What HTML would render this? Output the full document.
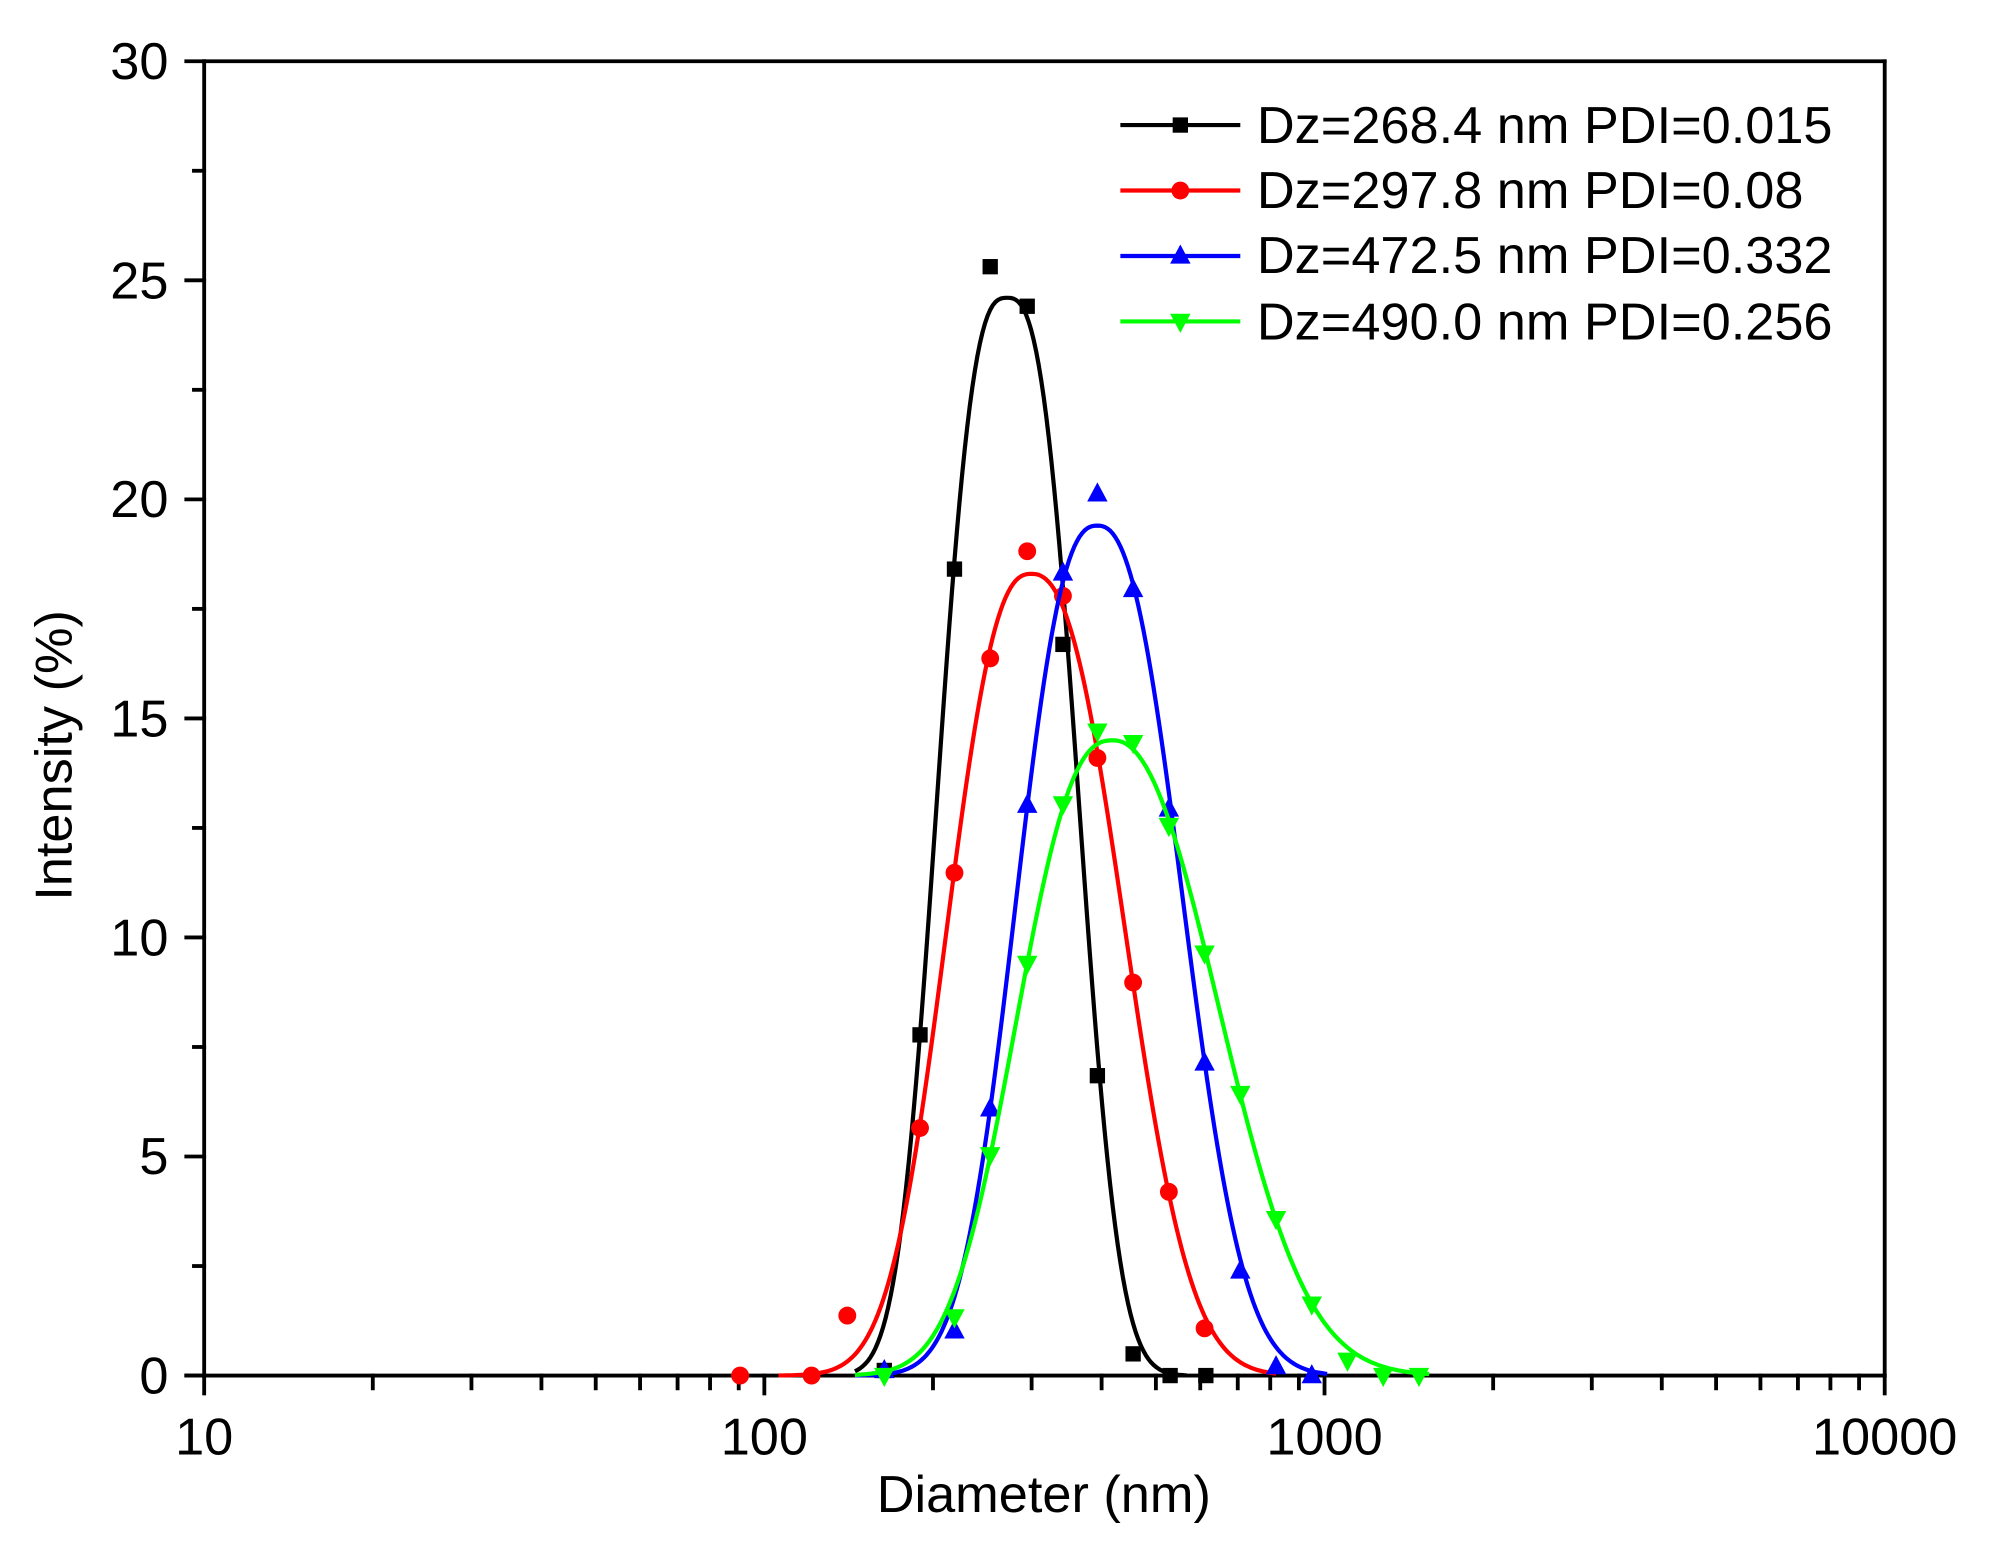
<!DOCTYPE html>
<html><head><meta charset="utf-8"><style>
html,body{margin:0;padding:0;background:#fff;}
svg{display:block;}
text{font-family:"Liberation Sans",Arial,sans-serif;fill:#000;}
</style></head><body>
<svg id="s" width="1991" height="1544" viewBox="0 0 1560.3 1210" xmlns="http://www.w3.org/2000/svg">
<g id="g"></g>
<g font-size="41">
<text x="160" y="1140" text-anchor="middle">10</text>
<text x="599" y="1140" text-anchor="middle">100</text>
<text x="1038" y="1140" text-anchor="middle">1000</text>
<text x="1477" y="1140" text-anchor="middle">10000</text>
<text x="132" y="1092" text-anchor="end">0</text>
<text x="132" y="920" text-anchor="end">5</text>
<text x="132" y="749" text-anchor="end">10</text>
<text x="132" y="577" text-anchor="end">15</text>
<text x="132" y="405" text-anchor="end">20</text>
<text x="132" y="234" text-anchor="end">25</text>
<text x="132" y="62" text-anchor="end">30</text>
<text x="818" y="1185" text-anchor="middle">Diameter (nm)</text>
<text transform="translate(56,592) rotate(-90)" text-anchor="middle">Intensity (%)</text>
<text x="985" y="112">Dz=268.4 nm PDI=0.015</text>
<text x="985" y="163">Dz=297.8 nm PDI=0.08</text>
<text x="985" y="214">Dz=472.5 nm PDI=0.332</text>
<text x="985" y="266">Dz=490.0 nm PDI=0.256</text>
</g>
</svg>
<script>
var g=document.getElementById('g'),h='';
function Y(v){return 1078-v/30*1030;}
function L(x1,y1,x2,y2,w){h+='<line x1="'+x1+'" y1="'+y1+'" x2="'+x2+'" y2="'+y2+'" stroke="#000" stroke-width="'+(w||3)+'" stroke-linecap="square"/>';}
L(160,48,1477,48);L(1477,48,1477,1078);L(160,48,160,1078);L(146,1078,1477,1078);
for(var i=0;i<=6;i++){L(146,Y(i*5),160,Y(i*5));}
for(var i=0;i<6;i++){L(152,Y(i*5+2.5),160,Y(i*5+2.5));}
for(var d=0;d<3;d++){for(var k=1;k<=10;k++){var x=160+439*(d+Math.log10(k));if(k==1){L(x,1078,x,1092);}else if(k<10)L(x,1078,x,1088);}}
L(1477,1078,1477,1092);
var S=[
 {c:'#000',m:'sq',px:789,pk:24.6,sl:50.5,sr:52,pl:2.8,pr:2.8,x0:670,x1:930,pts:[[693,1074],[721,811],[748,446],[776,209],[805,240],[833,505],[860,843],[888,1061],[917,1078],[945,1078]]},
 {c:'#ff0000',m:'ci',px:808,pk:18.3,sl:62,sr:69,pl:2.48,pr:2.43,x0:610,x1:1000,pts:[[580,1078],[636,1078],[664,1031],[721,884],[748,684],[776,516],[805,432],[833,467],[860,594],[888,770],[916,934],[944,1041]]},
 {c:'#0000ff',m:'up',px:860,pk:19.4,sl:60,sr:63,pl:2.5,pr:2.4,x0:670,x1:1040,pts:[[693,1074],[748,1043],[776,869],[805,631],[833,449],[860,387],[888,462],[916,634],[944,833],[972,996],[1000,1071],[1028,1078]]},
 {c:'#00ff00',m:'dn',px:872,pk:14.5,sl:71,sr:80,pl:2.5,pr:2.2,x0:670,x1:1120,pts:[[693,1078],[748,1032],[776,905],[805,755],[833,630],[860,573],[888,582],[916,647],[944,747],[972,857],[1000,955],[1028,1022],[1056,1066],[1084,1078],[1112,1078]]}
];
function mk(m,x,y,c){
 if(m=='sq')return '<rect x="'+(x-6)+'" y="'+(y-6)+'" width="12" height="12" fill="'+c+'"/>';
 if(m=='ci')return '<circle cx="'+x+'" cy="'+y+'" r="7" fill="'+c+'"/>';
 if(m=='up')return '<polygon points="'+x+','+(y-9)+' '+(x-8)+','+(y+6)+' '+(x+8)+','+(y+6)+'" fill="'+c+'"/>';
 return '<polygon points="'+x+','+(y+9)+' '+(x-8)+','+(y-6)+' '+(x+8)+','+(y-6)+'" fill="'+c+'"/>';
}
S.forEach(function(s,idx){
 var p='';
 for(var x=s.x0;x<=s.x1;x+=2){var dd=Math.abs(x-s.px);var sg=x<s.px?s.sl:s.sr;var pw=x<s.px?s.pl:s.pr;var v=s.pk*Math.exp(-Math.pow(dd/sg,pw)/2);p+=(p?'L':'M')+x+','+Y(v).toFixed(1);}
 h+='<path d="'+p+'" fill="none" stroke="'+s.c+'" stroke-width="3.3" stroke-linejoin="round"/>';
 s.pts.forEach(function(q){h+=mk(s.m,q[0],q[1],s.c);});
 var ly=98+idx*51.3;
 h+='<line x1="878" y1="'+ly+'" x2="972" y2="'+ly+'" stroke="'+s.c+'" stroke-width="3.3"/>'+mk(s.m,925,ly,s.c);
});
g.innerHTML=h;
</script>
</body></html>
